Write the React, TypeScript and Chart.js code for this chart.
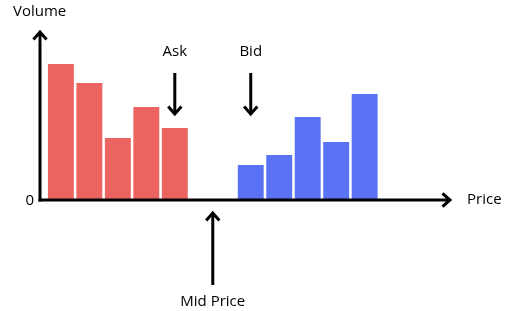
import { useEffect, useRef } from 'react';
import { Chart, registerables } from 'chart.js';

Chart.register(...registerables);

// Price levels (arbitrary units) and volumes
const askPrices = [3, 6, 9, 12, 15];
const askVolumes = [136, 117, 62, 93, 72];
const bidPrices = [23, 26, 29, 32, 35];
const bidVolumes = [35, 45, 83, 58, 106];
const midPrice = 19;
const askMarkerPrice = 15;
const bidMarkerPrice = 23;

const labels = {
  yTitle: 'Volume',
  xTitle: 'Price',
  zero: '0',
  ask: 'Ask',
  bid: 'Bid',
  mid: 'Mid Price',
};

const RED = '#EC6460';
const BLUE = '#5A72F5';
const FONT = '15px "Open Sans", "Noto Sans", sans-serif';

function arrow(ctx: CanvasRenderingContext2D, x1: number, y1: number, x2: number, y2: number) {
  const ang = Math.atan2(y2 - y1, x2 - x1);
  ctx.beginPath();
  ctx.moveTo(x1, y1);
  ctx.lineTo(x2, y2);
  ctx.stroke();
  const wing = 10;
  const spread = 0.72;
  ctx.beginPath();
  ctx.moveTo(x2 - wing * Math.cos(ang - spread), y2 - wing * Math.sin(ang - spread));
  ctx.lineTo(x2, y2);
  ctx.lineTo(x2 - wing * Math.cos(ang + spread), y2 - wing * Math.sin(ang + spread));
  ctx.stroke();
}

const decorPlugin = {
  id: 'decor',
  afterDraw(chart: any) {
    const { ctx, chartArea } = chart;
    const xs = chart.scales.x;
    const ys = chart.scales.y;
    const x0 = chartArea.left;
    const y0 = ys.getPixelForValue(0);
    ctx.save();
    ctx.strokeStyle = '#000';
    ctx.fillStyle = '#000';
    ctx.lineWidth = 3;
    ctx.lineCap = 'butt';
    ctx.lineJoin = 'miter';
    // axes
    arrow(ctx, x0, y0 + 1.5, x0, chartArea.top + 2);
    arrow(ctx, x0 - 1.5, y0, chartArea.right - 2, y0);
    // ask / bid markers
    const ax = xs.getPixelForValue(askMarkerPrice);
    const bx = xs.getPixelForValue(bidMarkerPrice);
    const mx = xs.getPixelForValue(midPrice);
    arrow(ctx, ax, ys.getPixelForValue(127), ax, ys.getPixelForValue(86));
    arrow(ctx, bx, ys.getPixelForValue(127), bx, ys.getPixelForValue(86));
    arrow(ctx, mx, y0 + 85, mx, y0 + 13);
    // texts
    ctx.font = FONT;
    ctx.textBaseline = 'middle';
    ctx.textAlign = 'center';
    ctx.fillText(labels.ask, ax, ys.getPixelForValue(148));
    ctx.fillText(labels.bid, bx, ys.getPixelForValue(148));
    ctx.fillText(labels.mid, mx, y0 + 102);
    ctx.textAlign = 'left';
    ctx.fillText(labels.xTitle, chartArea.right + 15, y0);
    ctx.fillText(labels.yTitle, x0 - 27, chartArea.top - 18);
    ctx.textAlign = 'right';
    ctx.fillText(labels.zero, x0 - 6, y0 + 1);
    ctx.restore();
  },
};

export default function App() {
  const ref = useRef<HTMLCanvasElement | null>(null);
  useEffect(() => {
    let chart: Chart | null = null;
    let cancelled = false;
    const build = () => {
      if (cancelled || !ref.current) return;
      chart = new Chart(ref.current, {
        type: 'bar',
        data: {
          datasets: [
            {
              data: askPrices.map((p, i) => ({ x: p, y: askVolumes[i] })),
              backgroundColor: RED,
              borderWidth: 0,
              grouped: false,
              barPercentage: 0.91,
              categoryPercentage: 1,
            },
            {
              data: bidPrices.map((p, i) => ({ x: p, y: bidVolumes[i] })),
              backgroundColor: BLUE,
              borderWidth: 0,
              grouped: false,
              barPercentage: 0.91,
              categoryPercentage: 1,
            },
          ] as any,
        },
        options: {
          animation: false,
          responsive: false,
          maintainAspectRatio: false,
          layout: { padding: { left: 40, right: 54, top: 30, bottom: 111 } },
          plugins: { legend: { display: false }, tooltip: { enabled: false } },
          scales: {
            x: { type: 'linear', min: 0.8, max: 44.2, offset: false, display: false },
            y: { type: 'linear', min: 0, max: 170, display: false },
          },
        },
        plugins: [decorPlugin],
      });
    };
    const fontsAny = (document as any).fonts;
    if (fontsAny && fontsAny.load) {
      fontsAny.load(FONT).then(build, build);
    } else {
      build();
    }
    return () => {
      cancelled = true;
      if (chart) chart.destroy();
    };
  }, []);
  return (
    <div style={{ position: 'fixed', left: 0, top: 0, width: 506, height: 311, background: '#fff' }}>
      <canvas ref={ref} width={506} height={311} style={{ width: 506, height: 311, display: 'block' }} />
    </div>
  );
}
